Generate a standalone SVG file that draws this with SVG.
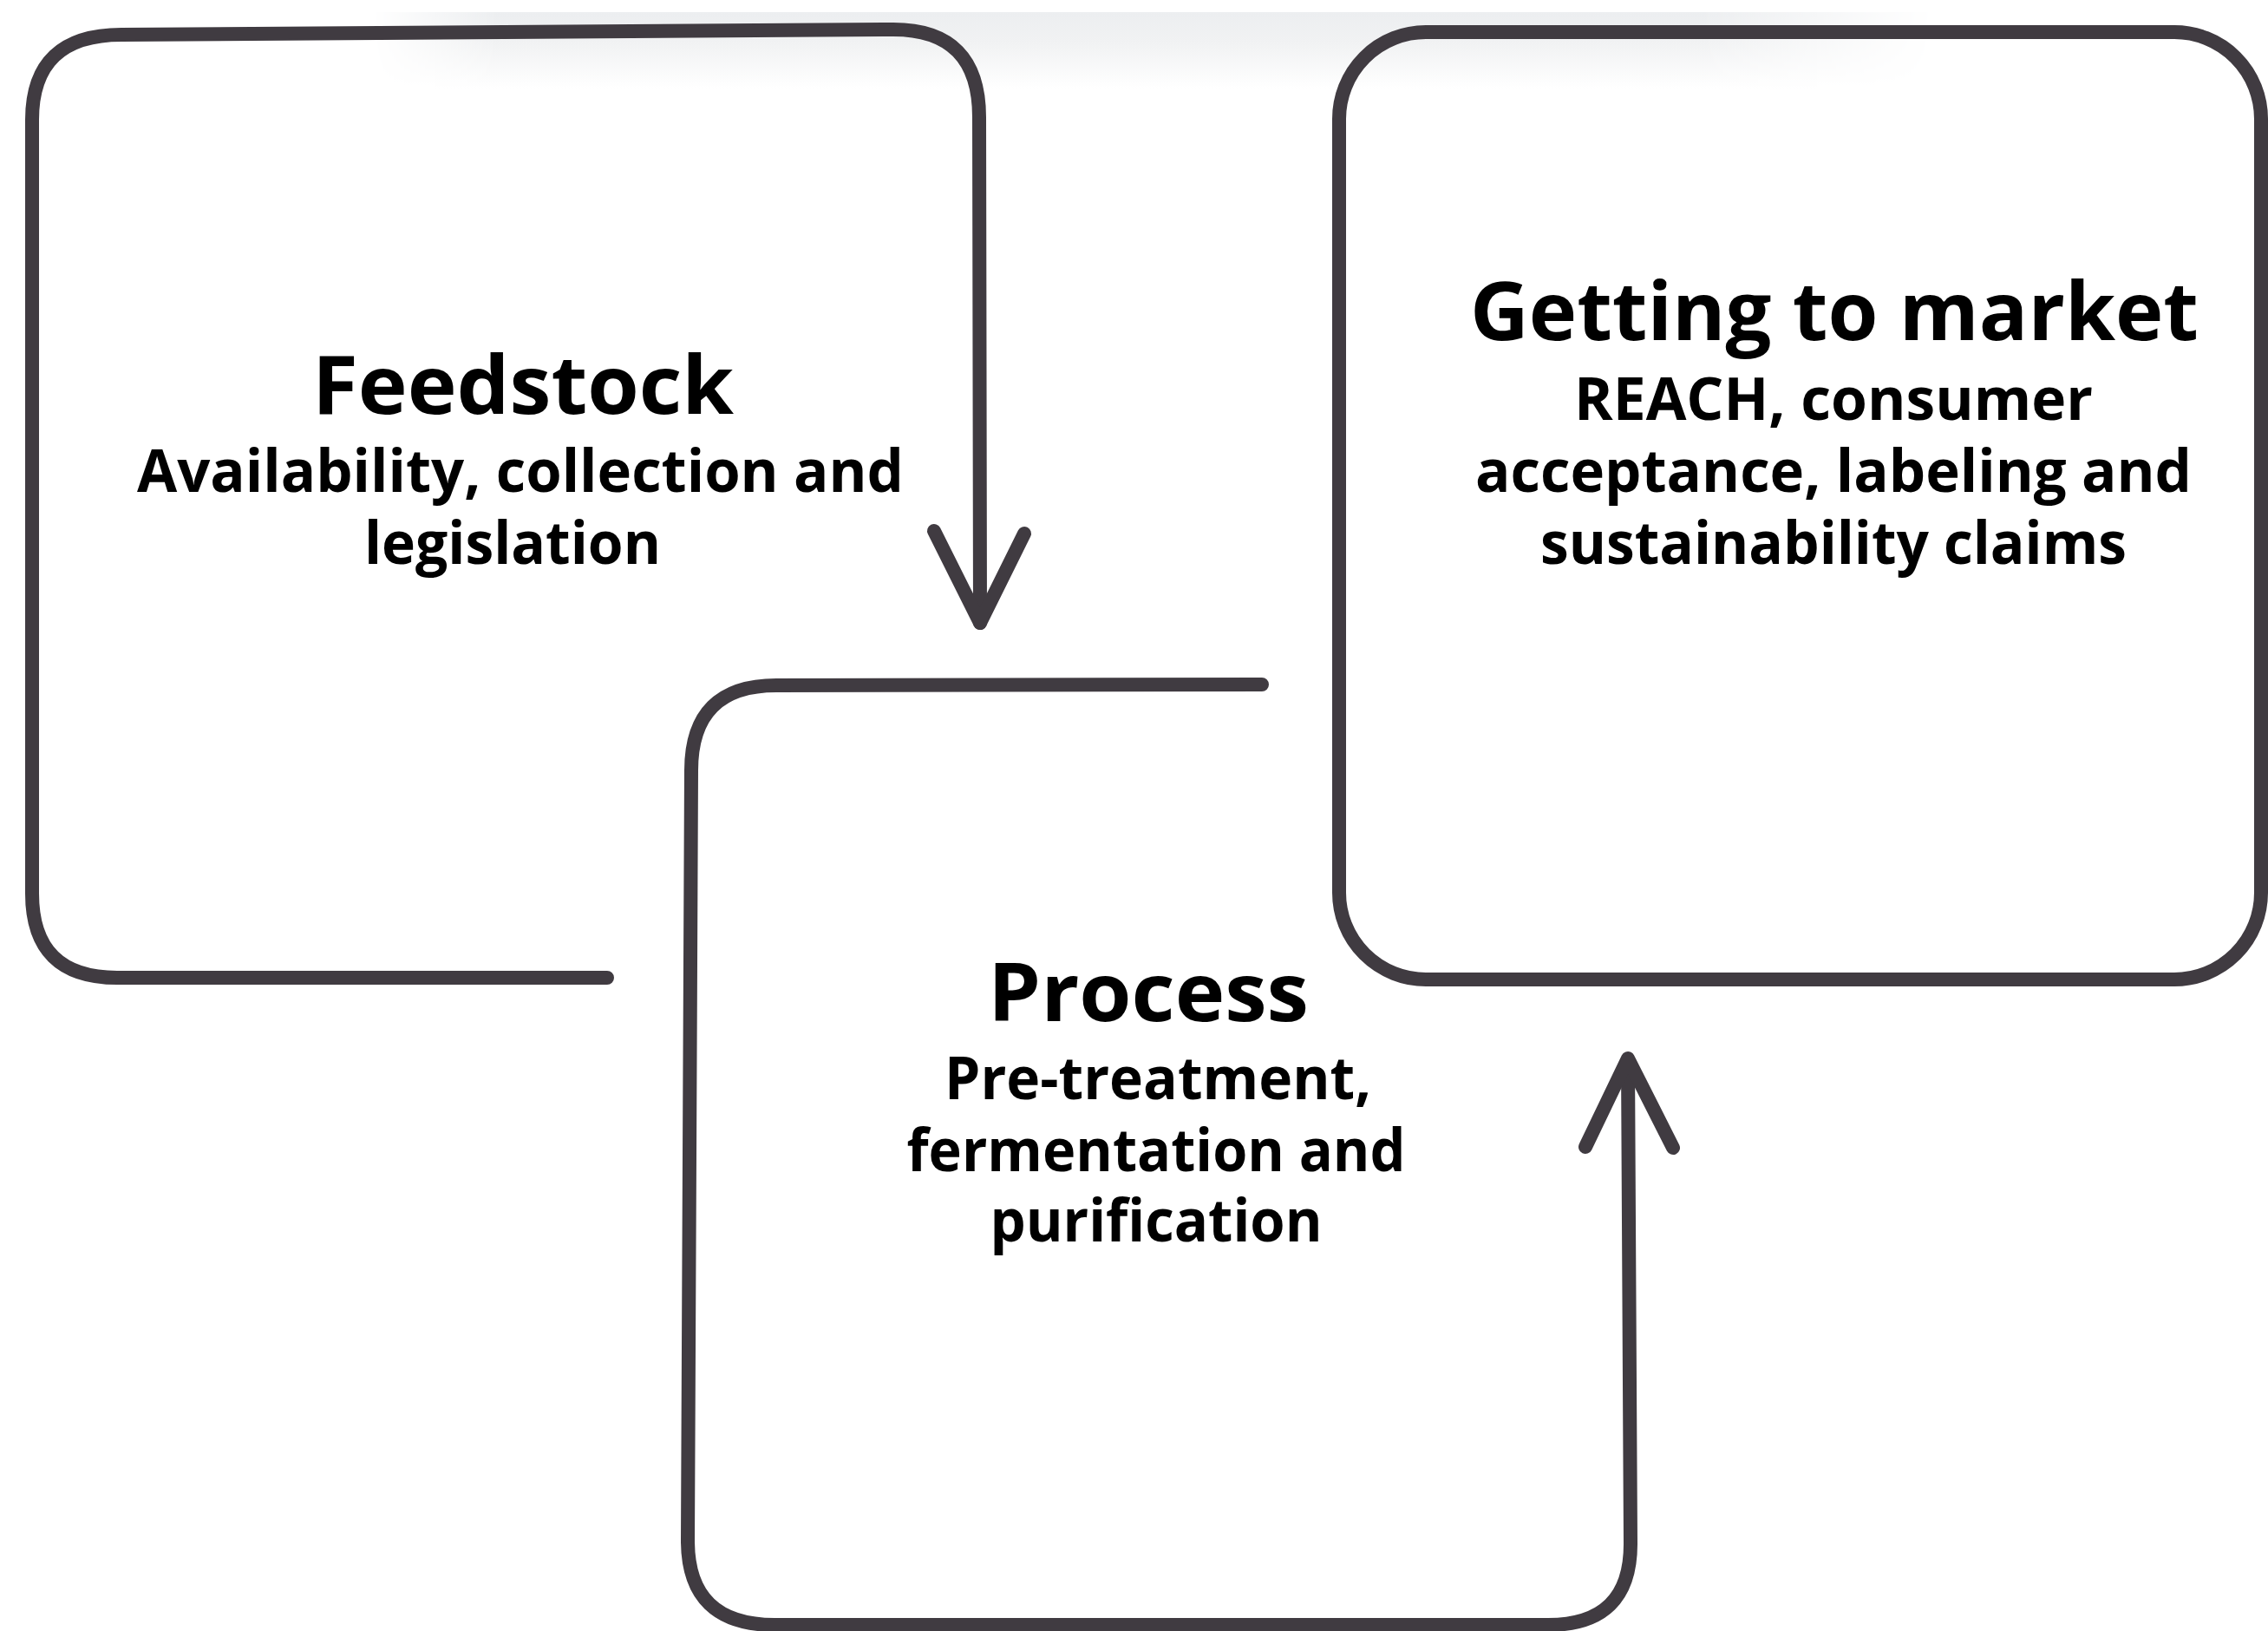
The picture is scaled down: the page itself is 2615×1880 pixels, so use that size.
<svg xmlns="http://www.w3.org/2000/svg" width="2615" height="1880" viewBox="0 0 2615 1880">
  <defs>
    <linearGradient id="band" x1="0" y1="0" x2="0" y2="1">
      <stop offset="0" stop-color="#eceef0"/>
      <stop offset="0.4" stop-color="#f1f2f3"/>
      <stop offset="1" stop-color="#ffffff"/>
    </linearGradient>
    <linearGradient id="bandFade" x1="0" y1="0" x2="1" y2="0">
      <stop offset="0" stop-color="#fff" stop-opacity="0"/>
      <stop offset="0.08" stop-color="#fff" stop-opacity="1"/>
      <stop offset="0.85" stop-color="#fff" stop-opacity="1"/>
      <stop offset="1" stop-color="#fff" stop-opacity="0"/>
    </linearGradient>
    <mask id="bandMask">
      <rect x="430" y="10" width="1800" height="95" fill="url(#bandFade)"/>
    </mask>
  </defs>
  <style>
    .edge { fill: none; stroke: #403b41; stroke-width: 16; stroke-linecap: round; stroke-linejoin: round; }
    .title { font-family: "Open Sans", "Noto Sans", sans-serif; font-weight: 700; font-size: 94px; fill: #000; text-anchor: middle; }
    .sub { font-family: "Open Sans", "Noto Sans", sans-serif; font-weight: 700; font-size: 68px; fill: #000; text-anchor: middle; }
  </style>
  <rect width="2615" height="1880" fill="#ffffff"/>
  <rect x="430" y="14" width="1800" height="88" fill="url(#band)" mask="url(#bandMask)"/>

  <g id="feedstock">
    <path class="edge" d="M700,1127 L135,1127 Q37,1127 37,1030 L37,138 Q37,40 140,40 L1030,34 Q1129,34 1129,135 L1130,718"/>
    <text class="title" x="603" y="477" textLength="486" lengthAdjust="spacingAndGlyphs">Feedstock</text>
    <text class="sub" x="600" y="567" textLength="884" lengthAdjust="spacingAndGlyphs">Availability, collection and</text>
    <text class="sub" x="591" y="650" textLength="342" lengthAdjust="spacingAndGlyphs">legislation</text>
  </g>

  <g id="process">
    <path class="edge" d="M1455,789 L895,790 Q797,790 797,888 L793,1776 Q793,1873 893,1873 L1785,1873 Q1880,1873 1880,1780 L1877,1222"/>
    <text class="title" x="1324" y="1177" textLength="370" lengthAdjust="spacingAndGlyphs">Process</text>
    <text class="sub" x="1335" y="1267" textLength="492" lengthAdjust="spacingAndGlyphs">Pre-treatment,</text>
    <text class="sub" x="1333" y="1350" textLength="575" lengthAdjust="spacingAndGlyphs">fermentation and</text>
    <text class="sub" x="1333" y="1431" textLength="383" lengthAdjust="spacingAndGlyphs">purification</text>
  </g>

  <g id="market">
    <rect class="edge" x="1544" y="37" width="1063" height="1092" rx="100" ry="100"/>
    <text class="title" x="2115" y="392" textLength="840" lengthAdjust="spacingAndGlyphs">Getting to market</text>
    <text class="sub" x="2114" y="484" textLength="598" lengthAdjust="spacingAndGlyphs">REACH, consumer</text>
    <text class="sub" x="2114" y="567" textLength="826" lengthAdjust="spacingAndGlyphs">acceptance, labeling and</text>
    <text class="sub" x="2114" y="650" textLength="676" lengthAdjust="spacingAndGlyphs">sustainability claims</text>
  </g>

  <g id="connectors">
    <polyline class="edge" points="1077,612 1130,718 1181,615"/>
    <polyline class="edge" points="1828,1322 1877,1220 1929,1323"/>
  </g>
</svg>
